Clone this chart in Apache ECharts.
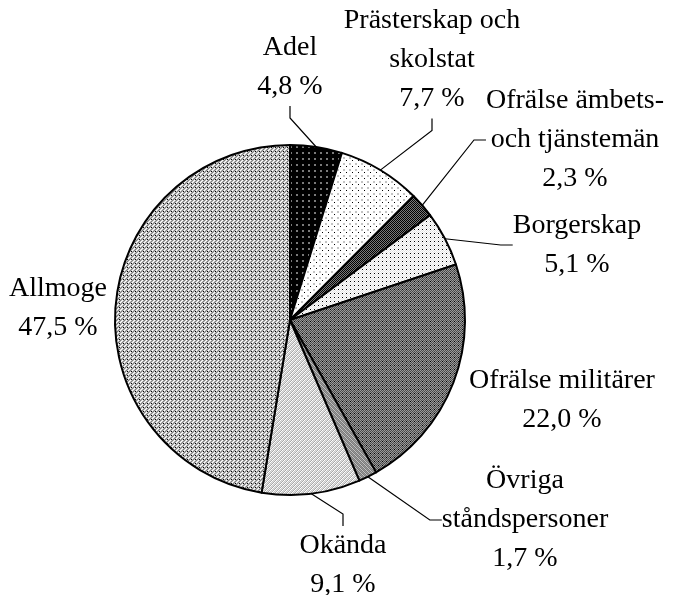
<!DOCTYPE html>
<html>
<head>
<meta charset="utf-8">
<script src="https://cdn.jsdelivr.net/npm/echarts@6/dist/echarts.min.js"></script>
<style>
    html,body{margin:0;padding:0;background:#fff;}
    #main{width:675px;height:595px;}
</style>
</head>
<body>
<div id="main"></div>
<script>
// pie data, clockwise from 12 o'clock
var names = ['Adel', 'Prästerskap och\nskolstat', 'Ofrälse ämbets-\noch tjänstemän', 'Borgerskap',
    'Ofrälse militärer', 'Övriga\nståndspersoner', 'Okända', 'Allmoge'];
var values = [4.8, 7.7, 2.3, 5.1, 22.0, 1.7, 9.1, 47.5];

// label anchor (center of text block) for every slice
var labelPos = [[290, 67], [432, 60], [575, 140], [577, 245], [562, 400], [525, 520], [343, 565], [58, 308]];
var showLine = [true, true, true, true, false, true, true, false];

// small pixel tiles to imitate the black/white hatch fills
var palette = {k: '#000', w: '#fff', g: '#7a7a7a', l: '#c4c4c4', d: '#4a4a4a', m: '#9a9a9a', p: '#a8a8a8', s: '#e2e2e2'};
function makeTile(rows){
    var c = document.createElement('canvas');
    c.width = rows[0].length;
    c.height = rows.length;
    var ctx = c.getContext('2d');
    for(var y=0;y<rows.length;y++){
        for(var x=0;x<rows[y].length;x++){
            ctx.fillStyle = palette[rows[y].charAt(x)];
            ctx.fillRect(x,y,1,1);
        }
    }
    return {image: c, repeat: 'repeat'};
}

var fills = [
    makeTile(['kkkkkk','kkkkkk','kkggkk','kkggkk','kkkkkk','kkkkkk']),
    makeTile(['wwwwww','wllwww','wllwww','wwwwww','wwwwkw','wwwwww']),
    makeTile(['kg','gk']),
    makeTile(['wsws','swkw','wsws','swsw']),
    makeTile(['mdmd','dmkm','mdmd','dmdm']),
    makeTile(['lgmg','glgm','mglg','gmgl']),
    makeTile(['wlsp','lspw','spwl','pwls']),
    makeTile(['glwl','lwlg','wlgl','lglk'])
];

function fmt(v){
    return v.toFixed(1).replace('.', ',') + ' %';
}

var pieData = [];
for(var i=0;i<values.length;i++){
    pieData.push({
        name: names[i],
        value: values[i],
        itemStyle: {color: fills[i]},
        labelLine: {show: showLine[i]}
    });
}

var chart = echarts.init(document.getElementById('main'));
var option = {
    backgroundColor: '#fff',
    animation: false,
    series: [{
        type: 'pie',
        center: [290, 320],
        radius: [0, 175],
        startAngle: 90,
        clockwise: true,
        data: pieData,
        itemStyle: {borderColor: '#000', borderWidth: 2},
        emphasis: {disabled: true},
        label: {
            show: true,
            position: 'outside',
            color: '#000',
            fontFamily: 'Liberation Serif',
            fontSize: 28,
            lineHeight: 39,
            align: 'center',
            overflow: 'none',
            formatter: function(p){
                return p.name + '\n' + fmt(p.value);
            }
        },
        labelLine: {
            show: true,
            length: 12,
            length2: 12,
            lineStyle: {color: '#000', width: 1.2}
        },
        labelLayout: function(p){
            var pos = labelPos[p.dataIndex];
            return {x: pos[0], y: pos[1], align: 'center', verticalAlign: 'middle'};
        }
    }]
};
chart.setOption(option);
</script>
</body>
</html>
